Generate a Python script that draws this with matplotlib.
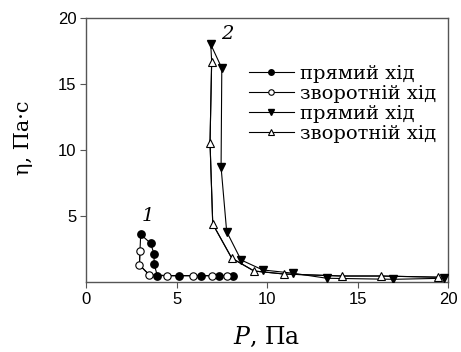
import matplotlib.pyplot as plt
import numpy as np

plt.rcParams["mathtext.fontset"] = "dejavuserif"

# curve 1, forward and backward
p1_fwd = [3.02, 3.57, 3.76, 3.76, 3.94, 5.16, 6.33, 7.33, 8.14]
eta1_fwd = [3.6, 2.93, 2.1, 1.34, 0.48, 0.48, 0.48, 0.48, 0.48]
p1_bwd = [7.8, 6.96, 5.93, 4.49, 3.5, 2.95, 2.98]
eta1_bwd = [0.48, 0.48, 0.48, 0.48, 0.53, 1.29, 2.35]

# curve 2, forward and backward
p2_fwd = [6.89, 7.5, 7.46, 7.77, 8.56, 9.76, 11.45, 13.3, 16.98, 19.78]
eta2_fwd = [18.0, 16.2, 8.7, 3.81, 1.67, 0.91, 0.66, 0.28, 0.2, 0.28]
p2_bwd = [19.46, 16.28, 14.13, 10.94, 9.28, 8.05, 7.0, 6.85, 6.94]
eta2_bwd = [0.36, 0.45, 0.45, 0.6, 0.83, 1.8, 4.39, 10.55, 16.7]

labels = ["прямий хід", "зворотній хід", "прямий хід", "зворотній хід"]

fig = plt.figure(figsize=(4.61, 3.52), dpi=100)
ax = fig.add_axes([0.1866, 0.199, 0.7854, 0.75])

lw = 0.8
ax.plot(p1_fwd, eta1_fwd, "-o", color="black", lw=lw, ms=5.3,
        mfc="black", mec="black", label=labels[0], zorder=3)
ax.plot(np.r_[p1_bwd, p1_fwd[0]], np.r_[eta1_bwd, eta1_fwd[0]], "-", color="black", lw=lw, zorder=2)
ax.plot(p1_bwd, eta1_bwd, "-o", color="black", lw=lw, ms=5.3,
        mfc="white", mec="black", mew=0.8, label=labels[1], zorder=4)
ax.plot(p2_fwd, eta2_fwd, "-v", color="black", lw=lw, ms=5.8,
        mfc="black", mec="black", label=labels[2], zorder=3)
ax.plot(np.r_[p2_bwd, p2_fwd[0]], np.r_[eta2_bwd, eta2_fwd[0]], "-", color="black", lw=lw, zorder=2)
ax.plot(p2_bwd, eta2_bwd, "-^", color="black", lw=lw, ms=5.8,
        mfc="white", mec="black", mew=0.8, label=labels[3], zorder=4)

ax.text(3.43, 5.0, "1", fontsize=14, style="italic", family="DejaVu Serif",
        ha="center", va="center")
ax.text(7.8, 18.8, "2", fontsize=14, style="italic", family="DejaVu Serif",
        ha="center", va="center")

ax.set_xlim(0, 20)
ax.set_ylim(0, 20)
ax.set_xticks([0, 5, 10, 15, 20])
ax.set_yticks([5, 10, 15, 20])
for lab in ax.get_xticklabels() + ax.get_yticklabels():
    lab.set_family("Liberation Sans")
    lab.set_fontsize(12)
ax.tick_params(direction="out", length=4, width=0.8, color="#555555", pad=3)
for s in ax.spines.values():
    s.set_color("#555555")
    s.set_linewidth(1.0)

ax.set_xlabel(r"$P$, Па", fontsize=17, family="DejaVu Serif", labelpad=13)
ax.set_ylabel("η, Па·с", fontsize=15, family="DejaVu Serif")
ax.yaxis.set_label_coords(-0.146, 0.545)

leg = ax.legend(loc="upper left", bbox_to_anchor=(0.45, 0.822), frameon=False,
                borderaxespad=0, borderpad=0, handlelength=2.3, handletextpad=0.3,
                labelspacing=0.1, markerscale=0.75,
                prop={"family": "DejaVu Serif", "size": 14})

fig.savefig("out.png", dpi=100)
